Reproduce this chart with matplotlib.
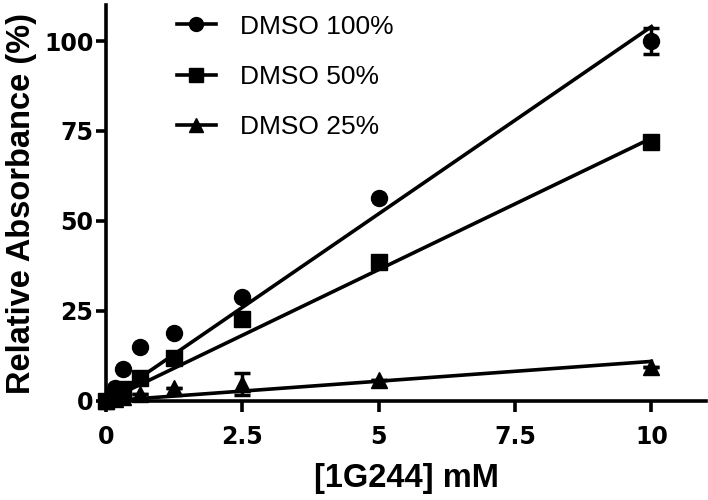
import numpy as np
import matplotlib
matplotlib.use("Agg")
import matplotlib.pyplot as plt
from matplotlib.lines import Line2D

conc = [0, 0.156, 0.3125, 0.625, 1.25, 2.5, 5, 10]
dmso100 = [0, 3.5, 9, 15, 19, 29, 56.5, 100]
dmso100_err = [0, 0, 0, 0, 0, 0, 0, 3.7]
dmso50 = [0, 1.5, 3.3, 6.5, 12, 22.8, 38.5, 72]
dmso50_err = [0, 0, 0, 0, 0, 0, 0, 1.2]
dmso25 = [0, 0.5, 1, 2, 3.6, 4.7, 5.7, 9.5]
dmso25_err = [0, 0, 0, 0, 0, 3.0, 0, 0]
slopes = [10.4, 7.3, 1.1]
labels = ["DMSO 100%", "DMSO 50%", "DMSO 25%"]
markers = ["o", "s", "^"]
msizes = [11.5, 11, 12]
xticks = [0, 2.5, 5, 7.5, 10]
xtick_labels = ["0", "2.5", "5", "7.5", "10"]
yticks = [0, 25, 50, 75, 100]

plt.rcParams['font.family'] = ['Liberation Sans', 'DejaVu Sans']

fig = plt.figure(figsize=(7.08, 5.0), dpi=100)
ax = fig.add_axes([106/708, 99/500, 600/708, 396/500])

series = [(dmso100, dmso100_err), (dmso50, dmso50_err), (dmso25, dmso25_err)]
handles = []
for (y, e), m, ms, s, lab in zip(series, markers, msizes, slopes, labels):
    ax.errorbar(conc, y, yerr=e, fmt=m, color='black', markersize=ms,
                capsize=6, capthick=2.5, elinewidth=2.5, clip_on=False, zorder=3)
    xl = np.array([0, 10])
    ax.plot(xl, s * xl, color='black', lw=2.6, clip_on=False, zorder=2)
    handles.append(Line2D([], [], color='black', lw=2.6, marker=m, markersize=ms - 1.5))

ax.set_xlim(0, 11)
ax.set_ylim(0, 110)
ax.set_xticks(xticks)
ax.set_xticklabels(xtick_labels)
ax.set_yticks(yticks)
for sp in ['top', 'right']:
    ax.spines[sp].set_visible(False)
for sp in ['left', 'bottom']:
    ax.spines[sp].set_linewidth(2.6)
ax.tick_params(axis='x', width=2.6, length=8, pad=9)
ax.tick_params(axis='y', width=2.6, length=7, pad=2)
for t in ax.get_xticklabels() + ax.get_yticklabels():
    t.set_fontfamily('DejaVu Sans')
    t.set_fontweight('bold')
    t.set_fontsize(17)

ax.set_xlabel("[1G244] mM", fontsize=23.5, fontweight='bold', labelpad=10)
ax.set_ylabel("Relative Absorbance (%)", fontsize=23.5, fontweight='bold', labelpad=5)

leg = fig.legend(handles, labels, loc='upper left', bbox_to_anchor=(166/708, 1 - 4/500),
                 frameon=False, fontsize=19, handlelength=1.5, handletextpad=0.9,
                 labelspacing=1.0, borderaxespad=0)

fig.savefig("out.png", dpi=100)
